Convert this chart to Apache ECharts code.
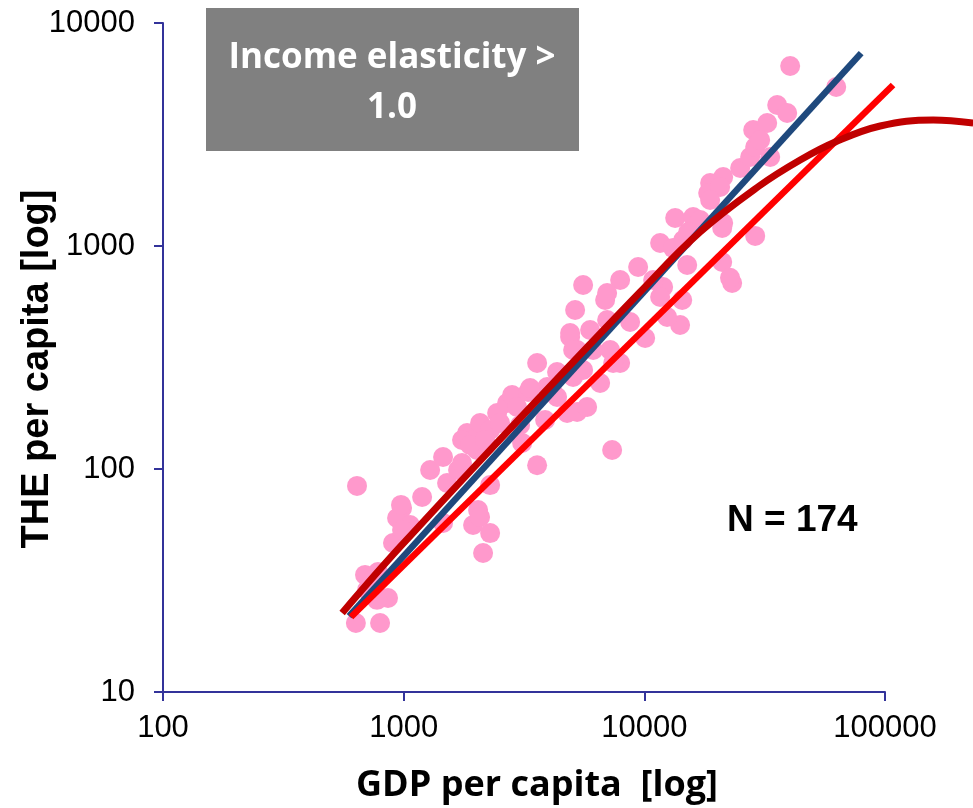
<!DOCTYPE html>
<html>
<head>
<meta charset="utf-8">
<script src="https://cdn.jsdelivr.net/npm/echarts@6/dist/echarts.min.js"></script>
<style>
  html, body { margin: 0; padding: 0; background: #fff; }
  #chart { width: 973px; height: 808px; }
</style>
</head>
<body>
<div id="chart"></div>
<script>
// axis ticks (log scale)
var xTicks = [100, 1000, 10000, 100000];
var yTicks = [10, 100, 1000, 10000];

// countries: [GDP per capita, THE per capita]
var countries = [
  [640, 84], [633, 20.4], [798, 20.4], [691, 33.5], [782, 34.5], [861, 26.4],
  [775, 25.9], [705, 28.7], [739, 31.8], [985, 66.8], [939, 60.3], [1063, 56.1],
  [903, 46.6], [985, 53.3], [975, 69], [1193, 74.9], [1515, 86.5], [1288, 99],
  [1683, 99], [2287, 84.7], [2038, 65.5], [1943, 56.1], [2287, 51.6], [2138, 42],
  [1458, 57.3], [1458, 113.2], [1748, 106.4], [1834, 145], [1943, 134.9], [2077, 160.8],
  [2287, 149.6], [2445, 178.3], [2018, 121.7], [2077, 60.9], [1748, 134.9], [1888, 128.1],
  [2180, 134.9], [2691, 197.7], [2822, 214.7], [2960, 189.7], [3289, 221.5], [3945, 233.2],
  [4340, 210.3], [3585, 298.8], [4340, 272.3], [4916, 390.8], [5257, 341.7], [3106, 130.9],
  [3585, 104], [4777, 178.3], [5257, 180.2], [3352, 230.8], [4178, 219.3], [5060, 258.5],
  [5567, 278], [6552, 243], [5784, 189.7], [7349, 121.7], [2516, 160.8], [3870, 165.9],
  [3047, 157.5], [5567, 668.5], [5157, 516.4], [4916, 407.4], [5060, 341.7], [6129, 341.7],
  [5953, 420.3], [6872, 572.6], [7934, 704.2], [9424, 805.4], [11630, 1031], [14500, 1064],
  [15070, 821.9], [11970, 654.8], [11630, 590.6], [8730, 456.3], [10080, 386.8], [7934, 298.8],
  [7420, 298.8], [14080, 442.4], [14370, 572.6], [12440, 480.4], [7005, 465.7], [7211, 341.7],
  [7005, 615.6], [10880, 704.2], [13170, 979], [21060, 847.7], [23170, 682.5], [22700, 720],
  [13430, 1335], [15950, 1349], [17060, 1308], [15210, 1156], [18770, 1917], [18420, 1729],
  [21260, 2039], [25010, 2238], [27520, 2507], [28880, 2779], [28330, 3314], [32390, 3562],
  [35650, 4289], [39220, 3948], [40360, 6418], [62700, 5164], [33340, 2507], [20650, 1839],
  [18770, 1608], [21260, 1268], [28880, 1110], [21060, 1204], [30290, 2987]
];

// fitted lines
var blueLine = [[593, 21.9], [79600, 7330]];
var redLine = [[604, 21.7], [108000, 5270]];
var curveLine = [
  [555, 22.6], [966, 44.7], [3162, 176.5], [9606, 622], [17060, 1156],
  [30000, 1858], [44410, 2430], [62100, 2927], [95500, 3452], [158600, 3673], [232600, 3562]
];

var chart = echarts.init(document.getElementById('chart'));
var axisColor = '#33339a';

// the trend lines run past the x axis end, so they sit on a wider hidden grid
// with the same px-per-decade as the visible one
var plotLeft = 163, plotRight = 885, pageW = 973;
var wideMax = xTicks[0] * Math.pow(10, 3 * (pageW - plotLeft) / (plotRight - plotLeft));

var labelFmt = function (v) { return String(Math.round(v)); };

var option = {
  backgroundColor: '#fff',
  animation: false,
  grid: [
    { left: plotLeft, right: pageW - plotRight, top: 23, bottom: 116, outerBoundsMode: 'none', containLabel: false },
    { left: plotLeft, right: 0, top: 23, bottom: 116, outerBoundsMode: 'none', containLabel: false }
  ],
  xAxis: [
    {
      type: 'log',
      gridIndex: 0,
      logBase: 10,
      min: xTicks[0],
      max: xTicks[xTicks.length - 1],
      axisLine: { lineStyle: { color: axisColor, width: 2 } },
      axisTick: { inside: false, length: 9, lineStyle: { color: axisColor, width: 2 } },
      axisLabel: { margin: 21, fontFamily: 'Liberation Sans', fontSize: 31, color: '#000', formatter: labelFmt },
      splitLine: { show: false },
      minorTick: { show: false }
    },
    {
      type: 'log',
      gridIndex: 1,
      logBase: 10,
      min: xTicks[0],
      max: wideMax,
      show: false
    }
  ],
  yAxis: [
    {
      type: 'log',
      gridIndex: 0,
      logBase: 10,
      min: yTicks[0],
      max: yTicks[yTicks.length - 1],
      axisLine: { show: true, lineStyle: { color: axisColor, width: 2 } },
      axisTick: { show: true, inside: false, length: 9, lineStyle: { color: axisColor, width: 2 } },
      axisLabel: { margin: 28, fontFamily: 'Liberation Sans', fontSize: 31, color: '#000', formatter: labelFmt },
      splitLine: { show: false }
    },
    {
      type: 'log',
      gridIndex: 1,
      logBase: 10,
      min: yTicks[0],
      max: yTicks[yTicks.length - 1],
      show: false
    }
  ],
  graphic: [
    {
      type: 'text',
      x: 537, y: 786,
      style: {
        text: 'GDP per capita  [log]',
        fill: '#000',
        font: 'bold 36px "Open Sans"',
        textAlign: 'center',
        textVerticalAlign: 'middle'
      }
    },
    {
      type: 'text',
      x: 38, y: 369,
      rotation: Math.PI / 2,
      style: {
        text: 'THE per capita [log]',
        fill: '#000',
        font: 'bold 38px "Liberation Sans"',
        textAlign: 'center',
        textVerticalAlign: 'middle'
      }
    },
    {
      type: 'rect',
      shape: { x: 206, y: 8, width: 373, height: 143 },
      style: { fill: '#808080' },
      z: 10
    },
    {
      type: 'text',
      x: 392, y: 58,
      style: {
        text: 'Income elasticity >',
        fill: '#fff',
        font: 'bold 35px "Open Sans"',
        textAlign: 'center',
        textVerticalAlign: 'middle'
      },
      z: 11
    },
    {
      type: 'text',
      x: 392, y: 108,
      style: {
        text: '1.0',
        fill: '#fff',
        font: 'bold 35px "Open Sans"',
        textAlign: 'center',
        textVerticalAlign: 'middle'
      },
      z: 11
    },
    {
      type: 'text',
      x: 727, y: 521,
      style: {
        text: 'N = 174',
        fill: '#000',
        font: 'bold 37px "Liberation Sans"',
        textAlign: 'left',
        textVerticalAlign: 'middle'
      },
      z: 11
    }
  ],
  series: [
    {
      type: 'scatter',
      xAxisIndex: 0,
      yAxisIndex: 0,
      data: countries,
      symbol: 'circle',
      symbolSize: 20,
      itemStyle: { color: '#ff99cc', opacity: 1 },
      z: 1
    },
    {
      type: 'line',
      xAxisIndex: 1,
      yAxisIndex: 1,
      data: blueLine,
      symbol: 'none',
      clip: false,
      lineStyle: { color: '#1f497d', width: 6.5, cap: 'butt' },
      z: 2
    },
    {
      type: 'line',
      xAxisIndex: 1,
      yAxisIndex: 1,
      data: redLine,
      symbol: 'none',
      clip: false,
      lineStyle: { color: '#ff0000', width: 6.5, cap: 'butt' },
      z: 3
    },
    {
      type: 'line',
      xAxisIndex: 1,
      yAxisIndex: 1,
      data: curveLine,
      symbol: 'none',
      smooth: 0.4,
      clip: false,
      lineStyle: { color: '#c00000', width: 7, cap: 'butt' },
      z: 4
    }
  ]
};

chart.setOption(option);
</script>
</body>
</html>
